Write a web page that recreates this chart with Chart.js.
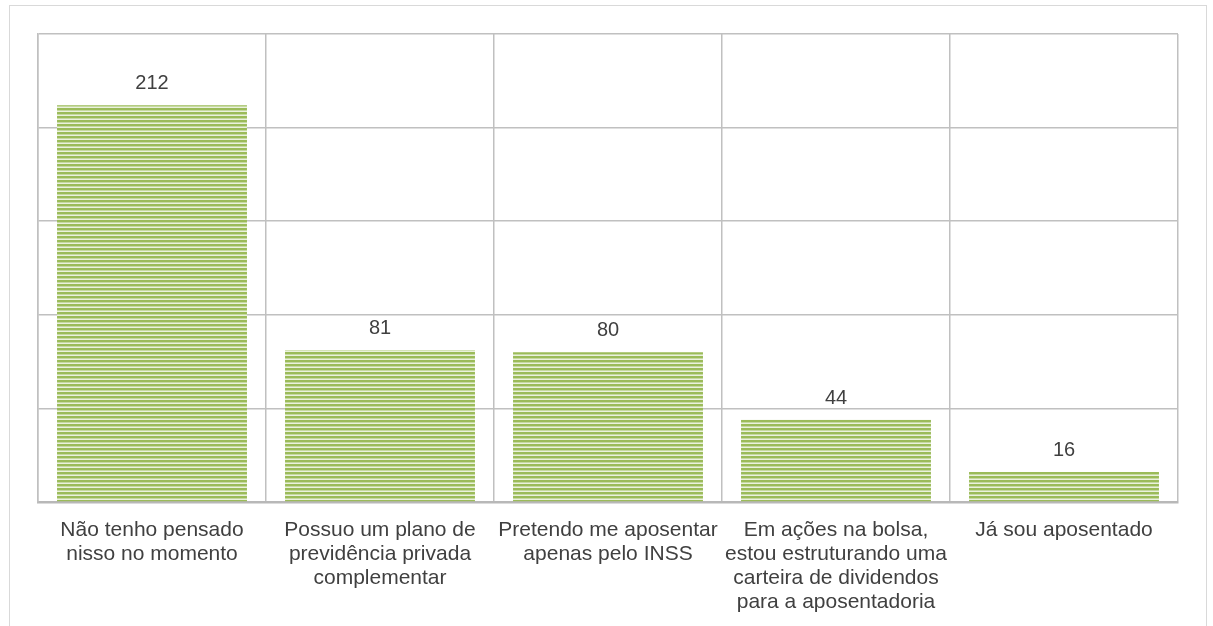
<!DOCTYPE html>
<html>
<head>
<meta charset="utf-8">
<script src="https://cdn.jsdelivr.net/npm/chart.js@4"></script>
<style>
    body { margin: 0; background: #fff; }
    #wrap { position: relative; width: 1213px; height: 626px; overflow: hidden; }
    #frame { position: absolute; left: 9px; top: 5px; width: 1196px; height: 640px; border: 1px solid #d9d9d9; border-bottom: none; }
    #chart { position: absolute; left: 0; top: 0; }
</style>
</head>
<body>
<div id="wrap">
    <div id="frame"></div>
    <canvas id="chart" width="1213" height="626"></canvas>
</div>
<script>
// categorias (quebradas em linhas como no original)
var categorias = [
    ['Não tenho pensado', 'nisso no momento'],
    ['Possuo um plano de', 'previdência privada', 'complementar'],
    ['Pretendo me aposentar', 'apenas pelo INSS'],
    ['Em ações na bolsa,', 'estou estruturando uma', 'carteira de dividendos', 'para a aposentadoria'],
    ['Já sou aposentado']
];
var respostas = [212, 81, 80, 44, 16];
var eixoMax = 250;
var eixoPasso = 50;

// listras horizontais verdes
function listras() {
    var c = document.createElement('canvas');
    c.width = 8;
    c.height = 4;
    var g = c.getContext('2d');
    g.fillStyle = '#9bbb59';
    g.fillRect(0, 0, 8, 2);
    g.fillStyle = '#c6d9a0';
    g.fillRect(0, 2, 8, 1);
    g.fillStyle = '#eaf1dd';
    g.fillRect(0, 3, 8, 1);
    return g.createPattern(c, 'repeat');
}

// rótulo de valor acima de cada barra
var rotulos = {
    id: 'rotulos',
    afterDatasetsDraw: function(chart) {
        var ctx = chart.ctx;
        var meta = chart.getDatasetMeta(0);
        ctx.save();
        ctx.font = '20px "Liberation Sans", Arial, sans-serif';
        ctx.fillStyle = '#404040';
        ctx.textAlign = 'center';
        ctx.textBaseline = 'alphabetic';
        meta.data.forEach(function(bar, i) {
            ctx.fillText(String(respostas[i]), bar.x, bar.y - 16);
        });
        ctx.restore();
    }
};

var ctx = document.getElementById('chart').getContext('2d');
var grafico = new Chart(ctx, {
    type: 'bar',
    data: {
        labels: categorias,
        datasets: [{
            data: respostas,
            backgroundColor: listras(),
            borderWidth: 0,
            categoryPercentage: 1,
            barPercentage: 0.833
        }]
    },
    options: {
        responsive: false,
        animation: false,
        layout: { padding: { left: 38, top: 34, right: 35, bottom: 0 } },
        plugins: {
            legend: { display: false },
            tooltip: { enabled: false }
        },
        scales: {
            x: {
                offset: true,
                grid: {
                    offset: true,
                    color: '#c0c0c0',
                    lineWidth: 1.5,
                    drawTicks: false
                },
                border: { color: '#b8b8b8', width: 2.5 },
                ticks: {
                    color: '#404040',
                    padding: 16,
                    maxRotation: 0,
                    autoSkip: false,
                    font: { family: '"Liberation Sans", Arial, sans-serif', size: 21, lineHeight: 1.14 }
                },
                afterFit: function(scale) { scale.height = 124; }
            },
            y: {
                min: 0,
                max: eixoMax,
                ticks: { display: false, stepSize: eixoPasso },
                grid: { color: '#c0c0c0', lineWidth: 1.5, drawTicks: false },
                border: { color: '#c0c0c0', width: 1.5 },
                afterFit: function(scale) { scale.width = 0; }
            }
        }
    },
    plugins: [rotulos]
});
</script>
</body>
</html>
